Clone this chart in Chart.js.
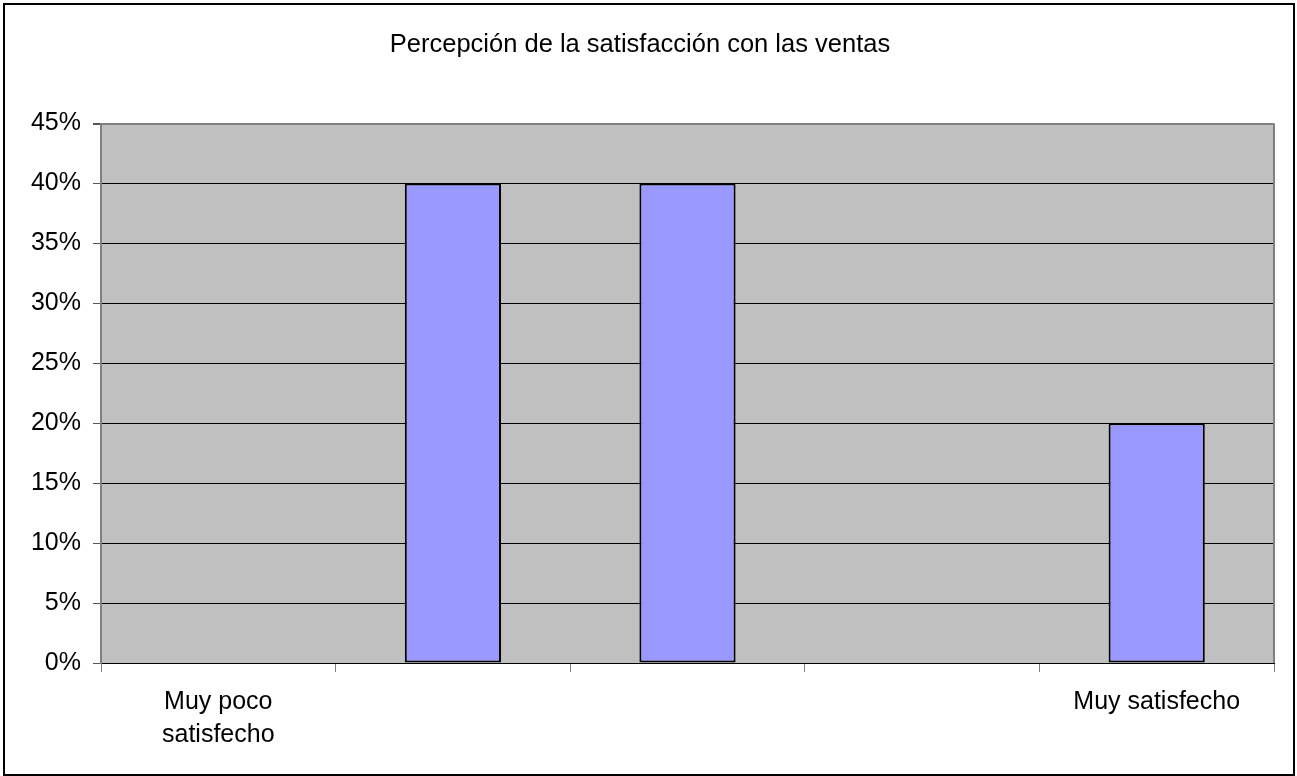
<!DOCTYPE html>
<html>
<head>
<meta charset="utf-8">
<script src="https://cdn.jsdelivr.net/npm/chart.js@4/dist/chart.umd.min.js"></script>
<style>
  html, body { margin: 0; padding: 0; background: #fff; }
  #wrap { width: 1297px; height: 776px; }
</style>
</head>
<body>
<div id="wrap"><canvas id="chart"></canvas></div>
<script>
const categorias = [['Muy poco', 'satisfecho'], '', '', '', 'Muy satisfecho'];
const porcentajes = [0, 40, 40, 0, 20];
const yMax = 45;
const yPaso = 5;

const fuente = { family: "'Liberation Sans', Arial, sans-serif", size: 25 };

const fondoPlot = {
    id: 'fondoPlot',
    beforeDraw(chart) {
        const { ctx, chartArea: a } = chart;
        ctx.save();
        ctx.fillStyle = '#fff';
        ctx.fillRect(0, 0, chart.width, chart.height);
        ctx.fillStyle = '#c0c0c0';
        ctx.fillRect(a.left, a.top, a.right - a.left, a.bottom - a.top);
        ctx.restore();
    },
    beforeDatasetsDraw(chart) {
        const { ctx, chartArea: a } = chart;
        ctx.save();
        ctx.strokeStyle = '#808080';
        ctx.lineWidth = 2;
        ctx.beginPath();
        ctx.moveTo(a.right, a.top);
        ctx.lineTo(a.right, a.bottom);
        ctx.stroke();
        ctx.restore();
    },
    afterDraw(chart) {
        const { ctx } = chart;
        ctx.save();
        ctx.strokeStyle = '#000';
        ctx.lineWidth = 2;
        ctx.strokeRect(4, 4, chart.width - 7, chart.height - 5);
        ctx.restore();
    }
};

new Chart(document.getElementById('chart'), {
    type: 'bar',
    data: {
        labels: categorias,
        datasets: [{
            data: porcentajes,
            backgroundColor: '#9999ff',
            borderColor: '#000',
            borderWidth: 2,
            borderSkipped: false,
            categoryPercentage: 1,
            barPercentage: 0.41,
        }],
    },
    options: {
        responsive: true,
        maintainAspectRatio: false,
        animation: false,
        layout: { padding: { left: 6, right: 23, top: 0, bottom: 0 } },
        plugins: {
            legend: { display: false },
            tooltip: { enabled: false },
            title: {
                display: true,
                text: 'Percepción de la satisfacción con las ventas',
                color: '#000',
                font: { ...fuente, size: 25.5, weight: 'normal', lineHeight: 1.2 },
                padding: { top: 30, bottom: 63 },
            },
        },
        scales: {
            x: {
                grid: {
                    offset: true,
                    drawOnChartArea: false,
                    color: '#808080',
                    lineWidth: 1,
                    tickLength: 9,
                },
                border: { color: '#000', width: 1 },
                ticks: {
                    color: '#000',
                    font: { ...fuente, lineHeight: 1.3 },
                    padding: 14,
                    maxRotation: 0,
                    autoSkip: false,
                },
                afterFit(scale) { scale.height = 113; },
            },
            y: {
                min: 0,
                max: yMax,
                grid: {
                    color: ctx => ctx.tick && ctx.tick.value === yMax ? '#808080' : '#000',
                    lineWidth: ctx => ctx.tick && ctx.tick.value === yMax ? 2 : 1,
                    tickLength: 8,
                    tickColor: '#555',
                },
                border: { color: '#808080', width: 2 },
                ticks: {
                    stepSize: yPaso,
                    color: '#000',
                    font: fuente,
                    padding: 12,
                    callback: v => v + '%',
                },
                afterFit(scale) { scale.width = 95; },
            },
        },
    },
    plugins: [fondoPlot],
});
</script>
</body>
</html>
